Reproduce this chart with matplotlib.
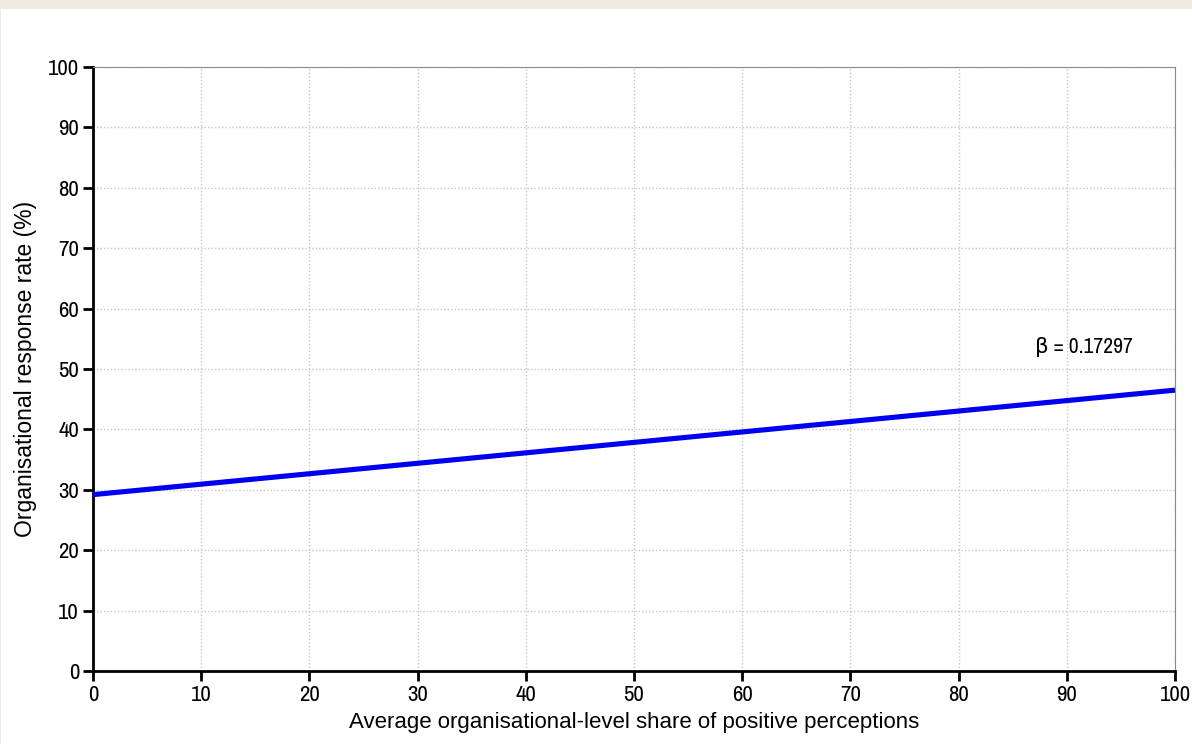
import matplotlib
matplotlib.use("Agg")
import matplotlib.pyplot as plt
from matplotlib.patches import Rectangle
from matplotlib import font_manager

# fitted line endpoints
x_vals = [0, 100]
y_vals = [29.2, 46.5]
beta_label = "β = 0.17297"
x_ticks = list(range(0, 101, 10))
y_ticks = list(range(0, 101, 10))

# narrow face for the numbers, plain Arial-like face for the axis titles
names = {f.name for f in font_manager.fontManager.ttflist}
narrow = [n for n in ["Liberation Sans Narrow", "Archivo Narrow", "Liberation Sans"] if n in names][:1]
plain = ["Liberation Sans"]
plt.rcParams['font.family'] = narrow + ["DejaVu Sans"]

fig = plt.figure(figsize=(11.92, 7.44), dpi=100, facecolor="#EEEBE0")
fig.patches.append(Rectangle((1 / 1192, 0), 1, 1 - 9 / 744, transform=fig.transFigure,
                             facecolor="white", edgecolor="none", zorder=-5))
ax = fig.add_axes([93 / 1192, 1 - 671 / 744, (1175 - 93) / 1192, (671 - 67) / 744])
ax.set_zorder(2)
ax.set_facecolor("white")

ax.plot(x_vals, y_vals, color="#0000F0", lw=3.7, solid_capstyle="butt", zorder=3)
ax.text(87.1, 53.6, beta_label, ha="left", va="center", fontsize=15.5)

ax.set_xlim(0, 100)
ax.set_ylim(0, 100)
ax.set_xticks(x_ticks)
ax.set_yticks(y_ticks)
ax.grid(True, color="#C8C8C8", linestyle=(0, (1, 1.5)), lw=1)
ax.set_axisbelow(True)

for side in ["left", "bottom"]:
    ax.spines[side].set_linewidth(2)
    ax.spines[side].set_color("black")
for side in ["top", "right"]:
    ax.spines[side].set_linewidth(0.8)
    ax.spines[side].set_color("#8A8A8A")

ax.tick_params(axis="both", which="major", direction="out", length=7, width=2,
               labelsize=16.5, color="black", top=False, right=False)
ax.tick_params(axis="x", pad=3)
ax.tick_params(axis="y", pad=3)

ax.set_xlabel("Average organisational-level share of positive perceptions",
              fontsize=16, family=plain + ["DejaVu Sans"], labelpad=5)
ax.set_ylabel("Organisational response rate (%)",
              fontsize=16.5, family=plain + ["DejaVu Sans"], labelpad=8)

fig.savefig("out.png", dpi=100, facecolor=fig.get_facecolor())
